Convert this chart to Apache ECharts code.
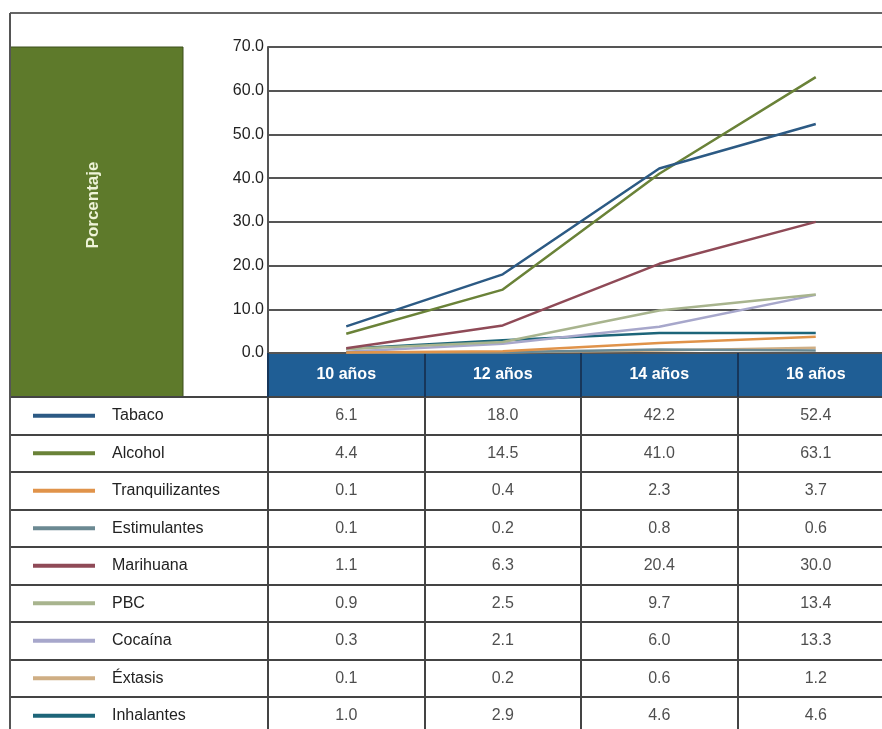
<!DOCTYPE html>
<html>
<head>
<meta charset="utf-8">
<script src="https://cdn.jsdelivr.net/npm/echarts@6/dist/echarts.min.js"></script>
<style>
html,body{margin:0;padding:0;background:#fff;}
#chart{width:882px;height:729px;}
</style>
</head>
<body>
<div id="chart"></div>
<script>
// ---- data ----
var ages = ['10 años', '12 años', '14 años', '16 años'];
var substances = ['Tabaco', 'Alcohol', 'Tranquilizantes', 'Estimulantes', 'Marihuana', 'PBC', 'Cocaína', 'Éxtasis', 'Inhalantes'];
var tabaco = [6.1, 18.0, 42.2, 52.4];
var alcohol = [4.4, 14.5, 41.0, 63.1];
var tranquilizantes = [0.1, 0.4, 2.3, 3.7];
var estimulantes = [0.1, 0.2, 0.8, 0.6];
var marihuana = [1.1, 6.3, 20.4, 30.0];
var pbc = [0.9, 2.5, 9.7, 13.4];
var cocaina = [0.3, 2.1, 6.0, 13.3];
var extasis = [0.1, 0.2, 0.6, 1.2];
var inhalantes = [1.0, 2.9, 4.6, 4.6];
var yAxisName = 'Porcentaje';
var yMin = 0, yMax = 70, yStep = 10;

// ---- styles ----
var seriesValues = [tabaco, alcohol, tranquilizantes, estimulantes, marihuana, pbc, cocaina, extasis, inhalantes];
var colors = ['#2c5a84', '#6a8238', '#e0934a', '#6b8992', '#8f4a57', '#a8b48e', '#a7a7cb', '#cfae84', '#1d6579'];
var FONT = '"Liberation Sans", Arial, sans-serif';
var lineCol = '#444';
var txtCol = '#222';

var rich = {};
colors.forEach(function (c, i) {
  rich['l' + i] = { width: 62, height: 4, backgroundColor: c, verticalAlign: 'middle' };
});
rich.n = { fontSize: 16, color: txtCol, fontFamily: FONT, padding: [0, 0, 0, 17], verticalAlign: 'middle' };

var lineSeries = substances.map(function (name, i) {
  return {
    name: name, type: 'line', xAxisIndex: 0, yAxisIndex: 0,
    data: seriesValues[i], symbol: 'none', smooth: false,
    lineStyle: { color: colors[i], width: 2.5 }, itemStyle: { color: colors[i] },
    z: 3 + (substances.length - i)
  };
});

var cellData = [];
seriesValues.forEach(function (vals, r) {
  vals.forEach(function (v, c) { cellData.push([c, r, v]); });
});

var option = {
  animation: false,
  backgroundColor: '#fff',
  textStyle: { fontFamily: FONT },
  graphic: [
    { type: 'rect', z: -10, shape: { x: 268, y: 353, width: 626, height: 44 }, style: { fill: '#1f5e95' } },
    { type: 'rect', z: -10, shape: { x: 10, y: 47, width: 173, height: 350 }, style: { fill: '#5e7a2b', stroke: '#3d4f1c', lineWidth: 1 } },
    { type: 'line', z: 50, shape: { x1: 10, y1: 13, x2: 882, y2: 13 }, style: { stroke: '#666', lineWidth: 2 } },
    { type: 'line', z: 50, shape: { x1: 10, y1: 13, x2: 10, y2: 735 }, style: { stroke: '#555', lineWidth: 2 } }
  ],
  grid: [
    { left: 268, top: 47, width: 626, height: 306, outerBoundsMode: 'none', containLabel: false },
    { left: 268, top: 397, width: 626, height: 337.5, outerBoundsMode: 'none', containLabel: false },
    { left: 10, top: 397, width: 258, height: 337.5, outerBoundsMode: 'none', containLabel: false }
  ],
  xAxis: [
    {
      gridIndex: 0, type: 'category', data: ages, boundaryGap: true,
      axisLine: { show: false },
      axisTick: { show: true, length: 44, alignWithLabel: false, interval: 0, lineStyle: { color: '#17365a', width: 2 } },
      axisLabel: { interval: 0, margin: 14, color: '#fff', fontWeight: 'bold', fontSize: 16, fontFamily: FONT },
      splitLine: { show: false }
    },
    {
      gridIndex: 1, type: 'category', data: ages, boundaryGap: true,
      axisLine: { show: false }, axisTick: { show: false }, axisLabel: { show: false },
      splitLine: { show: true, interval: 0, lineStyle: { color: lineCol, width: 2 } }
    },
    {
      gridIndex: 2, type: 'value', show: false
    }
  ],
  yAxis: [
    {
      gridIndex: 0, type: 'value', min: yMin, max: yMax, interval: yStep,
      name: yAxisName, nameLocation: 'middle', nameRotate: 90, nameGap: 166,
      nameTextStyle: { color: '#eef3d8', fontWeight: 'bold', fontSize: 17, fontFamily: FONT, padding: [0, 10, 0, 0] },
      axisLine: { show: true, lineStyle: { color: '#555', width: 2 } },
      axisTick: { show: false },
      axisLabel: { margin: 4, color: txtCol, fontSize: 16, fontFamily: FONT, formatter: function (v) { return v.toFixed(1); } },
      splitLine: { show: true, lineStyle: { color: '#555', width: 2 } }
    },
    {
      gridIndex: 1, type: 'category', data: substances, inverse: true, boundaryGap: true,
      axisLine: { show: false }, axisTick: { show: false }, axisLabel: { show: false },
      splitLine: { show: true, interval: 0, lineStyle: { color: lineCol, width: 2 } }
    },
    {
      gridIndex: 2, type: 'category', data: substances, inverse: true, boundaryGap: true,
      axisLine: { show: false }, axisTick: { show: false },
      axisLabel: {
        show: true, inside: true, interval: 0, margin: 23, align: 'left',
        formatter: function (v, i) { return '{l' + i + '|}{n|' + v + '}'; },
        rich: rich
      },
      splitLine: { show: true, interval: 0, lineStyle: { color: lineCol, width: 2 } }
    }
  ],
  series: lineSeries.concat([
    {
      type: 'scatter', xAxisIndex: 1, yAxisIndex: 1, data: cellData,
      symbolSize: 1, itemStyle: { color: 'rgba(0,0,0,0)' }, silent: true,
      label: {
        show: true, position: 'inside', color: txtCol, fontSize: 16, fontFamily: FONT,
        formatter: function (p) { return p.value[2].toFixed(1); }
      }
    }
  ])
};

var chart = echarts.init(document.getElementById('chart'), null, { renderer: 'canvas' });
chart.setOption(option);
</script>
</body>
</html>
